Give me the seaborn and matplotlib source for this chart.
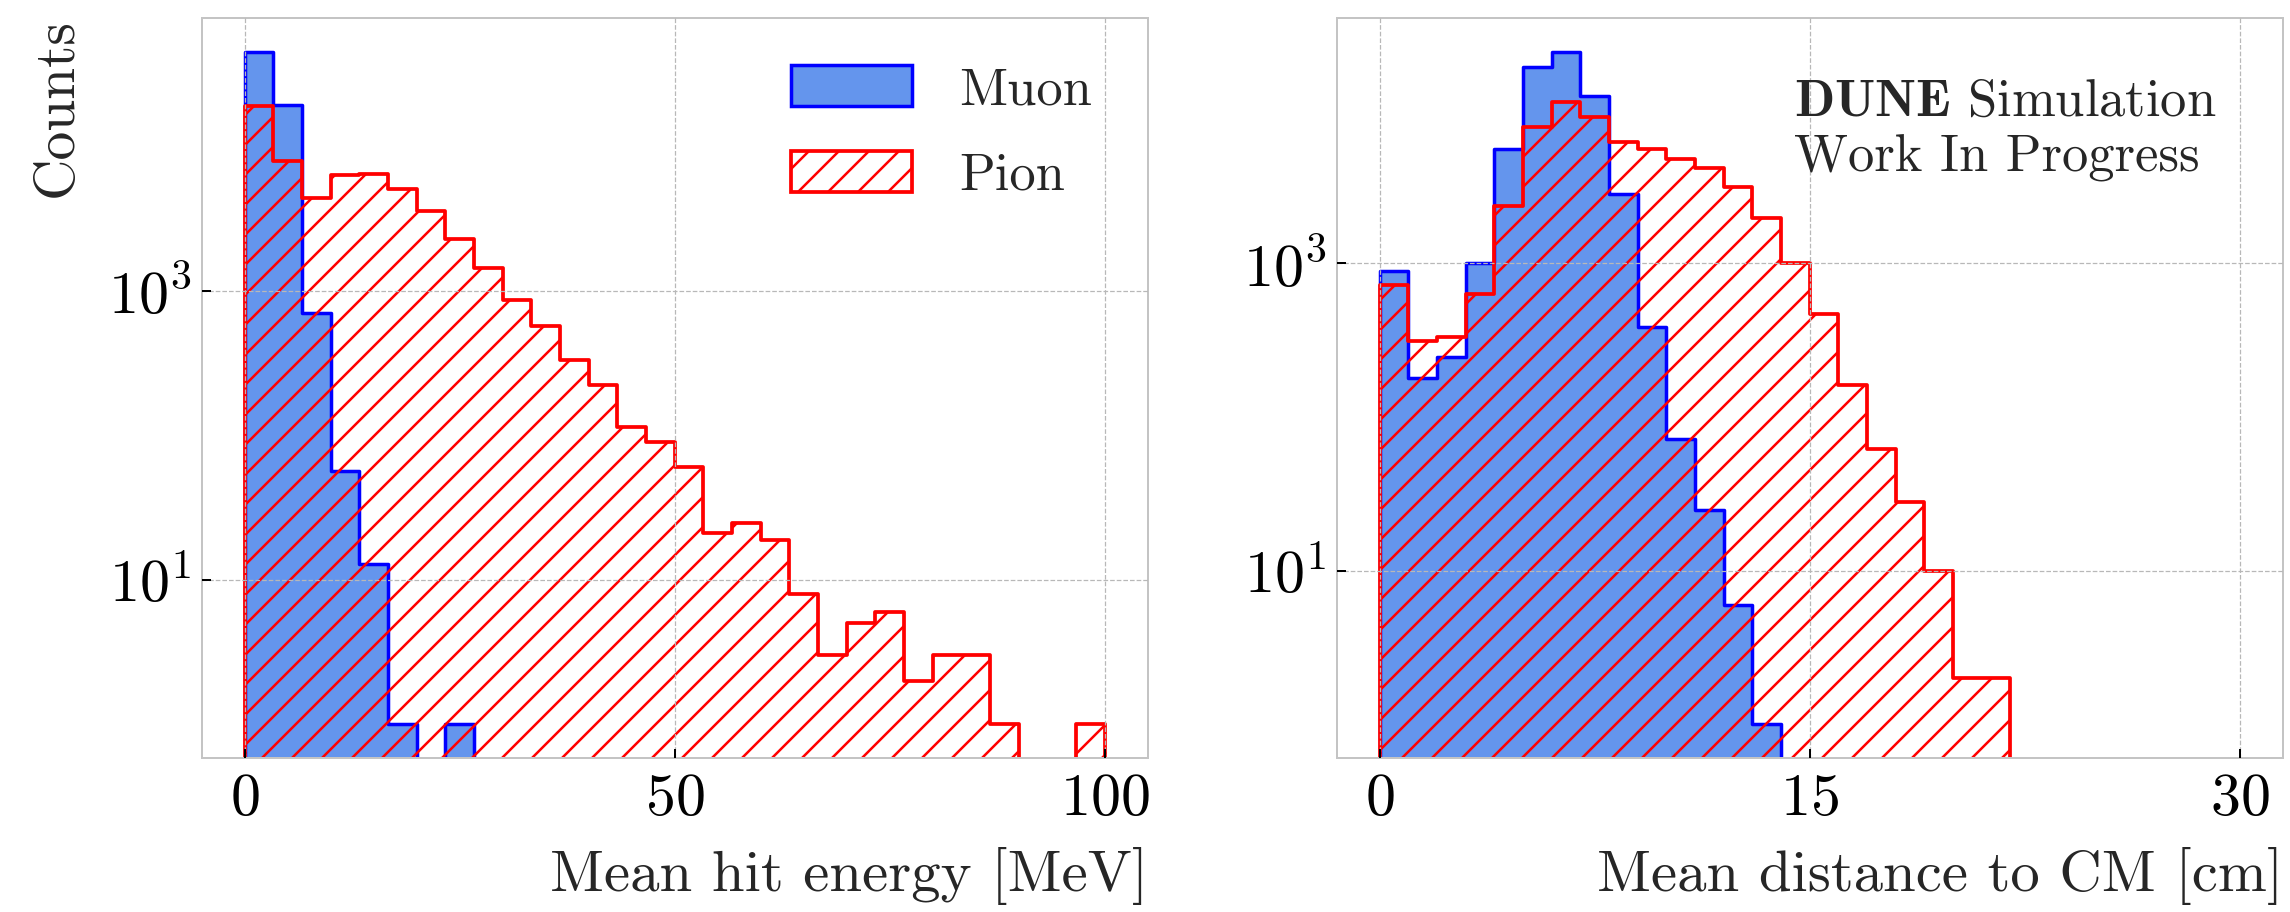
import numpy as np
import pandas as pd
import matplotlib
matplotlib.use("Agg")
import matplotlib.pyplot as plt
from matplotlib.ticker import NullLocator
import seaborn as sns

# ---- histogram contents (counts per bin) ----
energy_edges = np.linspace(0, 100, 31)      # Mean hit energy [MeV]
muon_energy = [45700, 19460, 705, 57, 13, 1, 0, 1, 0, 0,
               0, 0, 0, 0, 0, 0, 0, 0, 0, 0,
               0, 0, 0, 0, 0, 0, 0, 0, 0, 0]
pion_energy = [19130, 8040, 4390, 6400, 6450, 5120, 3570, 2305, 1460, 868,
               577, 333, 224, 115, 91, 61, 21, 25, 19, 8,
               3, 5, 6, 2, 3, 3, 1, 0, 0, 1]

distance_edges = np.linspace(0, 30, 31)     # Mean distance to CM [cm]
muon_distance = [891, 179, 245, 1012, 5530, 19000, 23900, 12230, 2830, 388,
                 72, 25, 6, 1, 0, 0, 0, 0, 0, 0,
                 0, 0, 0, 0, 0, 0, 0, 0, 0, 0]
pion_distance = [721, 313, 332, 632, 2380, 7690, 11220, 8910, 6210, 5530,
                 4800, 4150, 3150, 1970, 1000, 469, 162, 62, 28, 10,
                 2, 2, 0, 0, 0, 0, 0, 0, 0, 0]

energy_ticks = [0, 50, 100]
distance_ticks = [0, 15, 30]
count_ticks = [1e1, 1e3]
labels = ["Muon", "Pion"]

DPI = 180
sns.set_theme(style="whitegrid")
plt.rcParams.update({
    "font.family": "cmr10",
    "mathtext.fontset": "cm",
    "axes.formatter.use_mathtext": True,
    "axes.unicode_minus": False,
    "hatch.linewidth": 1.0,
    "axes.edgecolor": "#c4c4c4",
    "axes.linewidth": 0.8,
})

fig, (ax1, ax2) = plt.subplots(1, 2, figsize=(2290 / DPI, 912 / DPI), dpi=DPI)
fig.subplots_adjust(left=0.088, right=0.9969, bottom=0.1689, top=0.9803,
                    wspace=0.1996)


def draw_pair(ax, edges, muon, pion):
    edge_list = [float(e) for e in edges]
    centers = 0.5 * (edges[:-1] + edges[1:])
    frame = pd.DataFrame({"value": centers, "muon": muon, "pion": pion})
    sns.histplot(data=frame, x="value", weights="muon", bins=edge_list,
                 element="step", fill=True, color="blue",
                 facecolor=(0.392, 0.584, 0.929, 1.0),
                 edgecolor="blue", linewidth=1.4, ax=ax, label=labels[0])
    sns.histplot(data=frame, x="value", weights="pion", bins=edge_list,
                 element="step", fill=True, color="red", facecolor="none",
                 edgecolor="red", hatch="//", linewidth=1.5, ax=ax,
                 label=labels[1])
    ax.set_yscale("log")
    ax.set_yticks(count_ticks)
    ax.yaxis.set_minor_locator(NullLocator())
    ax.set_axisbelow(False)
    ax.grid(True, which="major", linestyle="--", color="#b8b8b8",
            linewidth=0.5)
    ax.tick_params(axis="both", which="major", direction="in", length=3.6,
                   width=0.8, color="black", labelsize=24, labelcolor="black",
                   bottom=True, left=True)
    ax.tick_params(axis="x", pad=6)
    ax.tick_params(axis="y", pad=4)
    ax.set_ylabel("")


draw_pair(ax1, energy_edges, muon_energy, pion_energy)
ax1.set_xticks(energy_ticks)
ax1.set_xlabel("Mean hit energy [MeV]", loc="right", fontsize=23.5,
               labelpad=8)
ax1.set_ylabel("Counts", loc="top", fontsize=23, labelpad=10)
ax1.legend(loc="upper right", bbox_to_anchor=(0.991, 1.0), frameon=False,
           fontsize=21, handlelength=2.3, handleheight=0.83,
           handletextpad=0.9, labelspacing=0.7, borderaxespad=0.5)

draw_pair(ax2, distance_edges, muon_distance, pion_distance)
ax2.set_xticks(distance_ticks)
ax2.set_xlabel("Mean distance to CM [cm]", loc="right", fontsize=23.5,
               labelpad=8)
ax2.text(0.483, 0.918, r"$\mathbf{DUNE}$ Simulation" + "\nWork In Progress",
         transform=ax2.transAxes, ha="left", va="top", fontsize=21,
         linespacing=1.25)

fig.savefig("out.png", dpi=DPI)
